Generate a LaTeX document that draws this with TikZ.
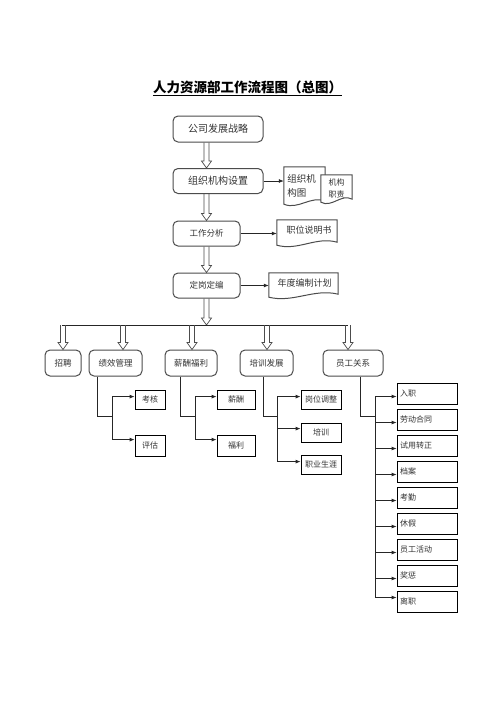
\documentclass[tikz,border=0pt]{standalone}
\usepackage{fontspec}
\setmainfont{Noto Sans CJK SC}
\usetikzlibrary{calc,arrows.meta}
\newcommand\docshape[1]{\draw[docline] (#1.north west) -- (#1.north east) -- ($(#1.south east)+(0,-3)$) .. controls ($(#1.south east)!0.35!(#1.south west)+(0,-9)$) and ($(#1.south east)!0.65!(#1.south west)+(0,6)$) .. (#1.south west) -- cycle;}
\begin{document}
\begin{tikzpicture}[x=1pt,y=-1pt,
  font=\fontsize{8.5}{10}\selectfont,
  rbox/.style={draw=black!70, line width=1pt, rounded corners=5pt, text=black!80, inner sep=0pt, align=center, minimum height=25pt},
  sbox/.style={draw=black, line width=0.8pt, inner sep=0pt, text=black!80, minimum height=19pt, font=\fontsize{8}{10}\selectfont},
  ebox/.style={draw=black, line width=0.8pt, inner xsep=3pt, inner ysep=0pt, text=black!80, minimum width=60pt, text width=54pt, align=left, minimum height=21pt, font=\fontsize{8}{10}\selectfont},
  conn/.style={draw=black!85, line width=0.8pt},
  arr/.style={conn, -{Latex[length=5pt,width=4pt]}},
  doc/.style={inner sep=0pt},
  doctext/.style={inner sep=0pt, text=black!80, align=left},
  docline/.style={draw=black!70, line width=1pt, fill=white},
  hollow/.style={draw=black!70, line width=0.7pt, to path={let \p1=(\tikztostart), \p2=(\tikztotarget) in (\x1-2.5pt,\y1) -- (\x1-2.5pt,\y2+7pt) -- (\x1-5pt,\y2+7pt) -- (\x1,\y2) -- (\x1+5pt,\y2+7pt) -- (\x1+2.5pt,\y2+7pt) -- (\x1+2.5pt,\y1)}}
]
\useasboundingbox[fill=white] (0,0) rectangle (496,702);

% title
\node[font=\fontsize{13.5}{16}\selectfont\bfseries, inner sep=0pt] (title) at (247.5,87) {人力资源部工作流程图（总图）};
\draw[line width=1.2pt] ($(title.south west)+(0,2)$) -- ($(title.south east)+(0,2)$);

% main column
\node[rbox, minimum width=90pt, minimum height=26pt, font=\fontsize{10}{12}\selectfont] (b1) at (218,129) {公司发展战略};
\node[rbox, minimum width=90pt, font=\fontsize{10}{12}\selectfont] (b2) at (218,181) {组织机构设置};
\node[rbox, minimum width=67pt] (b3) at (206.5,233.5) {工作分析};
\node[rbox, minimum width=67pt] (b4) at (206.5,285.5) {定岗定编};

\draw[hollow] (b1.south -| b3.center) to (b2.north -| b3.center);
\draw[hollow] (b2.south -| b3.center) to (b3.north);
\draw[hollow] (b3.south) to (b4.north);

% documents
\node[doc, minimum width=41pt, minimum height=37pt] (d1) at (304.5,185.5) {};
\docshape{d1}
\node[doctext, font=\fontsize{9.5}{14}\selectfont] (d1t) at ($(d1.center)+(-3,0)$) {组织机\\构图};
\node[doc, minimum width=31pt, minimum height=27pt] (d2) at (336.5,188.5) {};
\docshape{d2}
\node[doctext, font=\fontsize{8}{12}\selectfont] (d2t) at (d2.center) {机构\\职责};
\node[doc, minimum width=60pt, minimum height=25pt] (d3) at (307,232.5) {};
\docshape{d3}
\node[doctext, font=\fontsize{9}{11}\selectfont] (d3t) at ($(d3.center)+(2,-2)$) {职位说明书};
\node[doc, minimum width=69pt, minimum height=24pt] (d4) at (303.5,285) {};
\docshape{d4}
\node[doctext, font=\fontsize{9}{11}\selectfont] (d4t) at ($(d4.center)+(1,-2)$) {年度编制计划};

\draw[arr] (b2.east) -- (b2.east -| d1.west);
\draw[arr] (b3.east) -- (b3.east -| d3.west);
\draw[arr] (b4.east) -- (b4.east -| d4.west);

% bus
\coordinate (t1) at (62,325);
\coordinate (t2) at (123,325);
\coordinate (t3) at (192,325);
\coordinate (t4) at (267,325);
\coordinate (t5) at (348,325);
\draw[hollow] (b4.south) to (b4.south |- t1);
\draw[conn] (t1) -- (t5);

% row
\node[rbox, minimum width=36pt, minimum height=26pt] (r1) at (63,363) {招聘};
\node[rbox, minimum width=53pt, minimum height=26pt] (r2) at (115.5,363) {绩效管理};
\node[rbox, minimum width=52pt, minimum height=26pt] (r3) at (191,363) {薪酬福利};
\node[rbox, minimum width=53pt, minimum height=26pt] (r4) at (266.5,363) {培训发展};
\node[rbox, minimum width=60pt, minimum height=26pt] (r5) at (353,363) {员工关系};

\draw[hollow] ($(t1)+(1,0)$) to (r1.north);
\draw[hollow] (t2) to (t2 |- r2.north);
\draw[hollow] (t3) to (t3 |- r3.north);
\draw[hollow] (t4) to (t4 |- r4.north);
\draw[hollow] (t5) to (t5 |- r5.north);

% sub boxes
\node[sbox, minimum width=30pt] (k1) at (150,399.5) {考核};
\node[sbox, minimum width=30pt, minimum height=21pt] (k2) at (150,445.5) {评估};
\node[sbox, minimum width=38pt] (f1) at (236,399.5) {薪酬};
\node[sbox, minimum width=38pt, minimum height=21pt] (f2) at (236,445.5) {福利};
\node[sbox, minimum width=40pt] (p1) at (321,399.5) {岗位调整};
\node[sbox, minimum width=40pt] (p2) at (321,432.5) {培训};
\node[sbox, minimum width=40pt] (p3) at (321,464.5) {职业生涯};

\foreach \n/\t [count=\i] in {e1/入职,e2/劳动合同,e3/试用转正,e4/档案,e5/考勤,e6/休假,e7/员工活动,e8/奖惩,e9/离职}
  \node[ebox] (\n) at (427,367.5+26*\i) {\t};

% junctions
\coordinate (j1) at (112,416);
\coordinate (j2) at (195,416);
\coordinate (j3) at (277,416);
\coordinate (j4) at (375,416);

\draw[conn] ($(r2.south)+(-18.5,0)$) |- (j1);
\draw[conn] ($(r3.south)+(-11,0)$) |- (j2);
\draw[conn] ($(r4.south)+(-3.5,0)$) |- (j3);
\draw[conn] ($(r5.south)+(7,0)$) |- (j4);

\draw[conn] ($(k1.north west -| j1)+(0,7)$) -- ($(k2.north west -| j1)+(0,5)$);
\draw[arr] ($(k1.north west -| j1)+(0,7)$) -- ($(k1.north west)+(0,7)$);
\draw[arr] ($(k2.north west -| j1)+(0,5)$) -- ($(k2.north west)+(0,5)$);

\draw[conn] ($(f1.north west -| j2)+(0,7)$) -- ($(f2.north west -| j2)+(0,5)$);
\draw[arr] ($(f1.north west -| j2)+(0,7)$) -- ($(f1.north west)+(0,7)$);
\draw[arr] ($(f2.north west -| j2)+(0,5)$) -- ($(f2.north west)+(0,5)$);

\draw[conn] ($(p1.north west -| j3)+(0,7)$) -- ($(p3.north west -| j3)+(0,7)$);
\draw[arr] ($(p1.north west -| j3)+(0,7)$) -- ($(p1.north west)+(0,7)$);
\draw[arr] ($(p2.north west -| j3)+(0,6)$) -- ($(p2.north west)+(0,6)$);
\draw[arr] ($(p3.north west -| j3)+(0,7)$) -- ($(p3.north west)+(0,7)$);

\draw[conn] ($(e1.west -| j4)+(0,3)$) -- ($(e9.west -| j4)+(0,-4)$);
\foreach \i in {1,...,8}
  \draw[arr] ($(e\i.west -| j4)+(0,3)$) -- ($(e\i.west)+(0,3)$);
\draw[arr] ($(e9.west -| j4)+(0,-4)$) -- ($(e9.west)+(0,-4)$);
\end{tikzpicture}
\end{document}
